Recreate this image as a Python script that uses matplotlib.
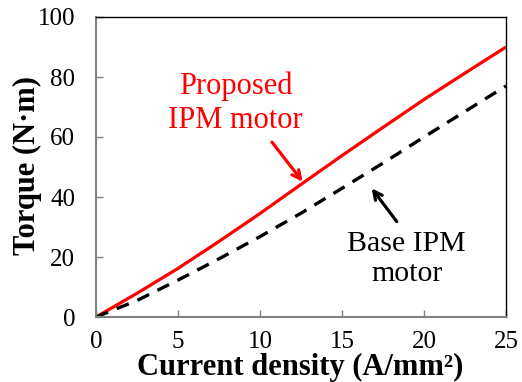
import matplotlib
matplotlib.use("Agg")
import matplotlib.pyplot as plt

plt.rcParams['font.family'] = ['Liberation Serif', 'DejaVu Serif']

# Data
current_density = [0, 2.5, 5, 7.5, 10, 12.5, 15, 17.5, 20, 22.5, 25]
torque_proposed = [0, 7.9, 16.2, 25.2, 34.5, 44.2, 53.8, 63.2, 72.5, 81.3, 90]
torque_base = [0, 5.5, 12.3, 19.4, 26.8, 34.6, 42.9, 51.3, 60, 68.5, 77]
x_ticks = [0, 5, 10, 15, 20, 25]
y_ticks = [0, 20, 40, 60, 80, 100]

fig = plt.figure(figsize=(5.22, 3.82), dpi=100)
ax = fig.add_axes([96/522, 65/382, 410/522, 300/382])

ax.plot(current_density, torque_proposed, color='#ff0000', lw=2.3, solid_capstyle='butt')
ax.plot(current_density, torque_base, color='black', lw=2.4, ls=(0, (3.9, 2.8)),
        dash_capstyle='butt')

ax.set_xlim(0, 25)
ax.set_ylim(0, 100)
ax.set_xticks(x_ticks)
ax.set_yticks(y_ticks)

for side in ['left', 'bottom']:
    ax.spines[side].set_color('#808080')
    ax.spines[side].set_linewidth(1.5)
for side in ['top', 'right']:
    ax.spines[side].set_color('black')
    ax.spines[side].set_linewidth(1.0)

ax.tick_params(axis='both', direction='in', length=5, width=1, color='#808080',
               labelsize=18)
ax.tick_params(axis='y', pad=15)
ax.tick_params(axis='x', pad=10)

ax.set_xlabel('Current density (A/mm²)', fontsize=22, fontweight='bold')
ax.xaxis.set_label_coords(0.497, -0.12)
ax.set_ylabel('Torque (N·m)', fontsize=22, fontweight='bold', va='center')
ax.yaxis.set_label_coords(-0.166, 0.505)

ax.text(8.5, 71.3, 'Proposed\nIPM motor', color='#ff0000', fontsize=22,
        ha='center', va='center', multialignment='center', linespacing=1.2)
ax.text(18.95, 19.2, 'Base IPM\nmotor', color='black', fontsize=21.5,
        ha='center', va='center', multialignment='center', linespacing=1.2)

ax.annotate('', xy=(12.6, 45.1), xytext=(10.73, 58.3),
            arrowprops=dict(arrowstyle='->,head_length=0.6,head_width=0.3',
                            color='#ff0000', lw=2.3, shrinkA=0, shrinkB=0))
ax.annotate('', xy=(16.81, 42.9), xytext=(18.34, 31.8),
            arrowprops=dict(arrowstyle='->,head_length=0.6,head_width=0.3',
                            color='black', lw=2.3, shrinkA=0, shrinkB=0))

fig.savefig('out.png', dpi=100)
